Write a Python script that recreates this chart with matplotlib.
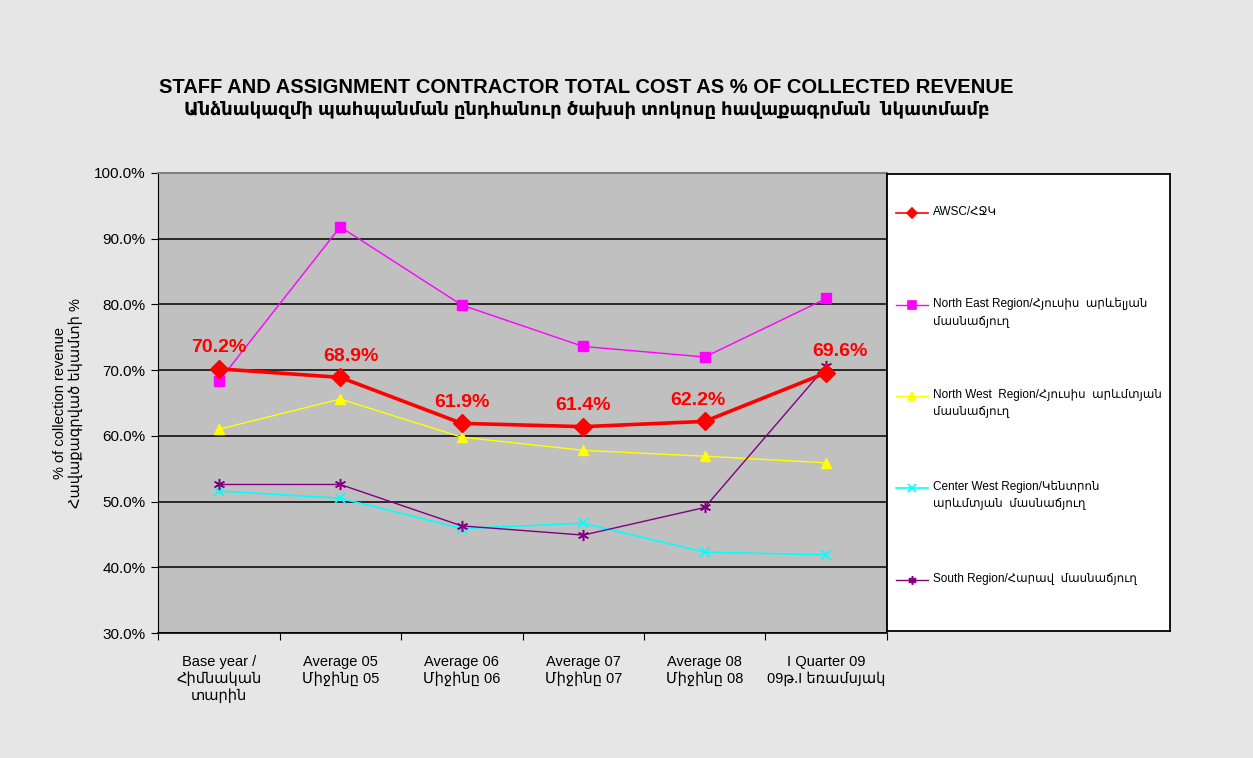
import matplotlib
matplotlib.use("Agg")
import matplotlib.pyplot as plt
from matplotlib.ticker import FuncFormatter, MultipleLocator

plt.rcParams['font.family'] = ['Liberation Sans', 'DejaVu Sans']

# ------------------------------------------------------------
# Data
# ------------------------------------------------------------
categories = [
    "Base year /\nՀիմնական\nտարին",
    "Average 05\nՄիջինը 05",
    "Average 06\nՄիջինը 06",
    "Average 07\nՄիջինը 07",
    "Average 08\nՄիջինը 08",
    "I Quarter 09\n09թ.I եռամսյակ",
]

awsc = [70.2, 68.9, 61.9, 61.4, 62.2, 69.6]
north_east = [68.3, 91.8, 79.9, 73.6, 72.0, 80.9]
north_west = [61.0, 65.6, 59.8, 57.8, 56.9, 55.9]
center_west = [51.6, 50.5, 45.9, 46.7, 42.3, 41.9]
south = [52.6, 52.6, 46.3, 44.9, 49.1, 70.6]

series_names = [
    "AWSC/ՀՋԿ",
    "North East Region/Հյուսիս  արևելյան\nմասնաճյուղ",
    "North West  Region/Հյուսիս  արևմտյան\nմասնաճյուղ",
    "Center West Region/Կենտրոն\nարևմտյան  մասնաճյուղ",
    "South Region/Հարավ  մասնաճյուղ",
]

# ------------------------------------------------------------
# Styles
# ------------------------------------------------------------
styles = [
    dict(color="#ff0000", marker="D", lw=2.6, ms=9, mew=1),
    dict(color="#ff00ff", marker="s", lw=1.0, ms=7, mew=1),
    dict(color="#ffff00", marker="^", lw=1.0, ms=7, mew=1),
    dict(color="#00ffff", marker="x", lw=1.2, ms=7, mew=1.2),
    dict(color="#800080", marker=(6, 2, 0), lw=1.0, ms=8, mew=1.1),
]
label_dx = [0, 8, 0, 0, -5, 10]   # small horizontal shifts of the value labels

fig = plt.figure(figsize=(12.53, 7.58), dpi=100)
fig.patch.set_facecolor("#e6e6e6")

ax = fig.add_axes([0.1261, 0.1649, 0.5818, 0.6069])
ax.set_facecolor("#c0c0c0")

x = list(range(len(categories)))
all_series = [awsc, north_east, north_west, center_west, south]

# draw regions first, AWSC on top
for vals, st in list(zip(all_series, styles))[1:]:
    ax.plot(x, vals, color=st["color"], lw=st["lw"], marker=st["marker"],
            ms=st["ms"], mew=st["mew"], zorder=3)
st = styles[0]
ax.plot(x, awsc, color=st["color"], lw=st["lw"], marker=st["marker"],
        ms=st["ms"], zorder=4)

for xi, v, dx in zip(x, awsc, label_dx):
    ax.annotate(f"{v:.1f}%", (xi, v), xytext=(dx, 9), textcoords="offset points",
                ha="center", va="bottom", color="#ff0000", fontsize=14,
                fontweight="bold", zorder=5)

ax.set_xlim(-0.5, 5.5)
ax.set_ylim(30, 100)
ax.yaxis.set_major_locator(MultipleLocator(10))
ax.yaxis.set_major_formatter(FuncFormatter(lambda v, p: f"{v:.1f}%"))
ax.grid(axis="y", color="black", lw=1.1, zorder=1)
ax.set_axisbelow(True)

ax.set_xticks([i - 0.5 for i in range(len(categories) + 1)])
ax.set_xticklabels([])
ax.set_xticks(x, minor=True)
ax.set_xticklabels(categories, minor=True, fontsize=10.5, linespacing=1.2)
ax.tick_params(axis="x", which="minor", length=0, pad=16)
ax.tick_params(axis="x", which="major", length=5, direction="out")
ax.tick_params(axis="y", length=5, direction="out", labelsize=11, pad=4)

for side in ["top", "right"]:
    ax.spines[side].set_color("#808080")
    ax.spines[side].set_linewidth(1.5)
ax.spines["left"].set_color("black")
ax.spines["bottom"].set_color("black")
ax.spines["bottom"].set_linewidth(1.2)

ax.set_ylabel("% of collection revenue\nՀավաքագրված եկամտի %", fontsize=10.5,
              labelpad=8, linespacing=1.1)

# ------------------------------------------------------------
# Legend box
# ------------------------------------------------------------
lax = fig.add_axes([0.7079, 0.1675, 0.2259, 0.6029])
lax.set_xlim(0, 1)
lax.set_ylim(0, 1)
lax.set_xticks([])
lax.set_yticks([])
lax.set_facecolor("white")
for sp in lax.spines.values():
    sp.set_color("black")
    sp.set_linewidth(1.3)

entry_y = [0.915, 0.713, 0.514, 0.313, 0.112]
for name, st, ey in zip(series_names, styles, entry_y):
    lax.plot([0.032, 0.145], [ey, ey], color=st["color"], lw=min(st["lw"], 1.2))
    lax.plot([0.088], [ey], color=st["color"], marker=st["marker"],
             ms=6 if st["marker"] != "D" else 5, mew=1.2)
    lax.text(0.163, ey + 0.016, name, va="top", ha="left", fontsize=8.5,
             linespacing=1.5, transform=lax.transAxes)

# ------------------------------------------------------------
# Titles
# ------------------------------------------------------------
fig.text(0.468, 0.884,
         "STAFF AND ASSIGNMENT CONTRACTOR TOTAL COST AS % OF COLLECTED REVENUE",
         ha="center", va="center", fontsize=14.5, fontweight="bold")
fig.text(0.468, 0.855,
         "Անձնակազմի պահպանման ընդհանուր ծախսի տոկոսը հավաքագրման  նկատմամբ",
         ha="center", va="center", fontsize=13, fontweight="bold")

fig.savefig("out.png", dpi=100, facecolor=fig.get_facecolor())
